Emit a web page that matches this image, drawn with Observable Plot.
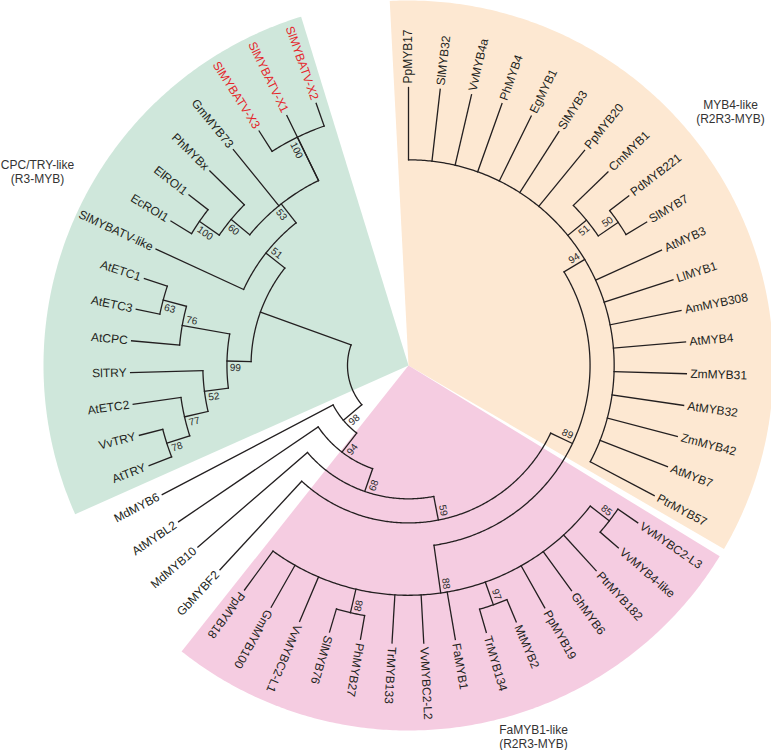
<!DOCTYPE html>
<html>
<head>
<meta charset="utf-8">
<script src="https://cdn.jsdelivr.net/npm/d3@7"></script>
<script src="https://cdn.jsdelivr.net/npm/@observablehq/plot@0.6"></script>
<style>
  html, body { margin: 0; padding: 0; background: #ffffff; }
  #chart svg { display: block; }
</style>
</head>
<body>
<div id="chart"></div>
<script>
// ---------------- DATA ----------------
// Leaves in clockwise order, starting at the top
const leafOrder = [
  "PpMYB17","SlMYB32","VvMYB4a","PhMYB4","EgMYB1","SlMYB3","PpMYB20","CmMYB1","PdMYB221","SlMYB7",
  "AtMYB3","LlMYB1","AmMYB308","AtMYB4","ZmMYB31","AtMYB32","ZmMYB42","AtMYB7","PtrMYB57",
  "VvMYBC2-L3","VvMYB4-like","PtrMYB182","GhMYB6","PpMYB19","MtMYB2","TrMYB134","FaMYB1",
  "VvMYBC2-L2","TrMYB133","PhMYB27","SlMYB76","VvMYBC2-L1","GmMYB100","PpMYB18",
  "GbMYBF2","MdMYB10","AtMYBL2","MdMYB6",
  "AtTRY","VvTRY","AtETC2","SlTRY","AtCPC","AtETC3","AtETC1","SlMYBATV-like","EcROI1","ElROI1",
  "PhMYBx","GmMYB73","SlMYBATV-X3","SlMYBATV-X1","SlMYBATV-X2"
];
// Tree topology with bootstrap support values (Newick)
const newick =
  "((((((" +
  "(PpMYB17,SlMYB32,VvMYB4a,PhMYB4,EgMYB1,SlMYB3,PpMYB20,(CmMYB1,(PdMYB221,SlMYB7)50)51,AtMYB3,LlMYB1,AmMYB308,AtMYB4,ZmMYB31,AtMYB32,ZmMYB42,AtMYB7,PtrMYB57)94," +
  "((VvMYBC2-L3,VvMYB4-like)85,PtrMYB182,GhMYB6,PpMYB19,(MtMYB2,TrMYB134)97,FaMYB1,VvMYBC2-L2,TrMYB133,(PhMYB27,SlMYB76)88,VvMYBC2-L1,GmMYB100,PpMYB18)88" +
  ")89,GbMYBF2)59,MdMYB10)68,AtMYBL2)94,MdMYB6)98," +
  "(((((AtTRY,VvTRY)78,AtETC2)77,SlTRY)52,(AtCPC,(AtETC3,AtETC1)63)76)99," +
  "(SlMYBATV-like,(((EcROI1,ElROI1)100,PhMYBx)60,GmMYB73,SlMYBATV-X1,(SlMYBATV-X3,SlMYBATV-X2)100)53)51));";
const highlightLeaves = ["SlMYBATV-X1","SlMYBATV-X2","SlMYBATV-X3"];
// Shaded clades
const cladeNames     = ["MYB4-like","FaMYB1-like","CPC/TRY-like"];
const cladeSubtitles = ["(R2R3-MYB)","(R2R3-MYB)","(R3-MYB)"];
const cladeFirst     = ["PpMYB17","VvMYBC2-L3","AtTRY"];
const cladeLast      = ["PtrMYB57","PpMYB18","SlMYBATV-X2"];

// ---------------- LAYOUT ----------------
const W = 771, H = 750, cx = 408, cy = 365;
const step = 6.55;           // degrees between neighbouring leaves
const R0 = 61, RL = 278, RLabel = 282, RWedge = 365;
const flipLeaf = 217;        // leaf labels beyond this angle read toward the centre
const flipBoot = 180;        // bootstrap labels beyond this angle read toward the centre
const cladeColors = ["#fde8d2", "#f5cce1", "#cfe7db"];
const ink = "#231f20", red = "#e4262b";
const font = "Liberation Sans, Arial, Helvetica, sans-serif";

const rad = d => d * Math.PI / 180;
const px = (r, t) => r * Math.sin(rad(t));
const py = (r, t) => -r * Math.cos(rad(t));

function parseNewick(s) {
  let i = 0;
  function node() {
    const n = {children: []};
    if (s[i] === "(") {
      i++;
      n.children.push(node());
      while (s[i] === ",") { i++; n.children.push(node()); }
      i++; // ')'
    }
    let lab = "";
    while (i < s.length && !",);".includes(s[i])) lab += s[i++];
    if (n.children.length) n.support = lab; else n.name = lab;
    return n;
  }
  return node();
}

const tree = parseNewick(newick);
const leafIndex = new Map(leafOrder.map((n, i) => [n, i]));
(function lay(n) {
  if (!n.children.length) {
    n.h = 0; n.t = leafIndex.get(n.name) * step; n.leafAngles = [n.t]; return;
  }
  n.children.forEach(lay);
  n.h = 1 + d3.max(n.children, c => c.h);
  const ts = n.children.map(c => c.t);
  n.t0 = d3.min(ts); n.t1 = d3.max(ts); n.t = (n.t0 + n.t1) / 2;
  n.leafAngles = n.children.flatMap(c => c.leafAngles);
})(tree);
const rootH = tree.h;
(function setR(n) { n.r = RL - n.h * (RL - R0) / rootH; n.children.forEach(setR); })(tree);

const radials = [], arcs = [], inner = [];
(function walk(n, parent) {
  if (parent) radials.push({x1: px(parent.r, n.t), y1: py(parent.r, n.t), x2: px(n.r, n.t), y2: py(n.r, n.t)});
  if (n.children.length) {
    inner.push(n);
    const id = inner.length;
    const k = Math.max(2, Math.ceil((n.t1 - n.t0) / 0.5));
    for (let j = 0; j <= k; j++) {
      const t = n.t0 + (n.t1 - n.t0) * j / k;
      arcs.push({id, x: px(n.r, t), y: py(n.r, t)});
    }
    n.children.forEach(c => walk(c, n));
  }
})(tree, null);

// leaf labels
const leafLabels = leafOrder.map((name, i) => {
  const t = i * step, right = t < flipLeaf;
  return {name, x: px(RLabel, t), y: py(RLabel, t), rot: right ? t - 90 : t + 90, right,
          hl: highlightLeaves.includes(name)};
});

// bootstrap labels
const boots = inner.filter(n => n.support).map(n => {
  let side;
  if (n.children.length === 2) {
    const [a, b] = n.children, la = a.leafAngles.length, lb = b.leafAngles.length;
    side = la === lb ? -1 : (Math.sign((la > lb ? a.t : b.t) - n.t) || -1);
  } else {
    const lo = n.leafAngles.filter(t => t < n.t).length, hi = n.leafAngles.filter(t => t > n.t).length;
    side = hi > lo ? 1 : -1;
  }
  const r = n.r - 3, off = 6.5 * side, t = n.t, right = t < flipBoot;
  return {text: n.support, x: px(r, t) + off * Math.cos(rad(t)), y: py(r, t) + off * Math.sin(rad(t)),
          rot: right ? t - 90 : t + 90, right};
});

// shaded wedges
const wedges = cladeNames.map((c, k) => {
  const a = leafIndex.get(cladeFirst[k]) * step - 0.45 * step;
  const b = leafIndex.get(cladeLast[k]) * step + 0.35 * step;
  const pts = [{x: 0, y: 0}];
  const m = Math.ceil((b - a) / 0.5);
  for (let j = 0; j <= m; j++) { const t = a + (b - a) * j / m; pts.push({x: px(RWedge, t), y: py(RWedge, t)}); }
  pts.push({x: 0, y: 0});
  return pts;
});

// clade titles (annotation positions around the wheel)
const titles = [
  {text: cladeNames[0] + "\n" + cladeSubtitles[0], x: 322, y: -254},
  {text: cladeNames[1] + "\n" + cladeSubtitles[1], x: 125, y: 371},
  {text: cladeNames[2] + "\n" + cladeSubtitles[2], x: -371, y: -194}
];

const chart = Plot.plot({
  width: W, height: H, margin: 0,
  x: {domain: [-cx, W - cx], range: [0, W], axis: null},
  y: {domain: [-cy, H - cy], range: [0, H], axis: null},
  style: {background: "#ffffff", fontFamily: font},
  marks: [
    ...wedges.map((w, k) => Plot.line(w, {x: "x", y: "y", fill: cladeColors[k], stroke: "none", curve: "linear"})),
    Plot.line(arcs, {x: "x", y: "y", z: "id", stroke: ink, strokeWidth: 1.3, curve: "linear"}),
    Plot.link(radials, {x1: "x1", y1: "y1", x2: "x2", y2: "y2", stroke: ink, strokeWidth: 1.3, strokeLinecap: "square"}),
    Plot.text(leafLabels.filter(d => d.right), {x: "x", y: "y", text: "name", rotate: "rot", textAnchor: "start",
      fontSize: 12, fill: d => d.hl ? red : ink}),
    Plot.text(leafLabels.filter(d => !d.right), {x: "x", y: "y", text: "name", rotate: "rot", textAnchor: "end",
      fontSize: 12, fill: d => d.hl ? red : ink}),
    Plot.text(boots.filter(d => d.right), {x: "x", y: "y", text: "text", rotate: "rot", textAnchor: "end",
      fontSize: 10, fill: "#2a2a2a"}),
    Plot.text(boots.filter(d => !d.right), {x: "x", y: "y", text: "text", rotate: "rot", textAnchor: "start",
      fontSize: 10, fill: "#2a2a2a"}),
    Plot.text(titles, {x: "x", y: "y", text: "text", fontSize: 12, fill: "#333333", lineHeight: 1.2, textAnchor: "middle"})
  ]
});
document.getElementById("chart").appendChild(chart);
</script>
</body>
</html>
